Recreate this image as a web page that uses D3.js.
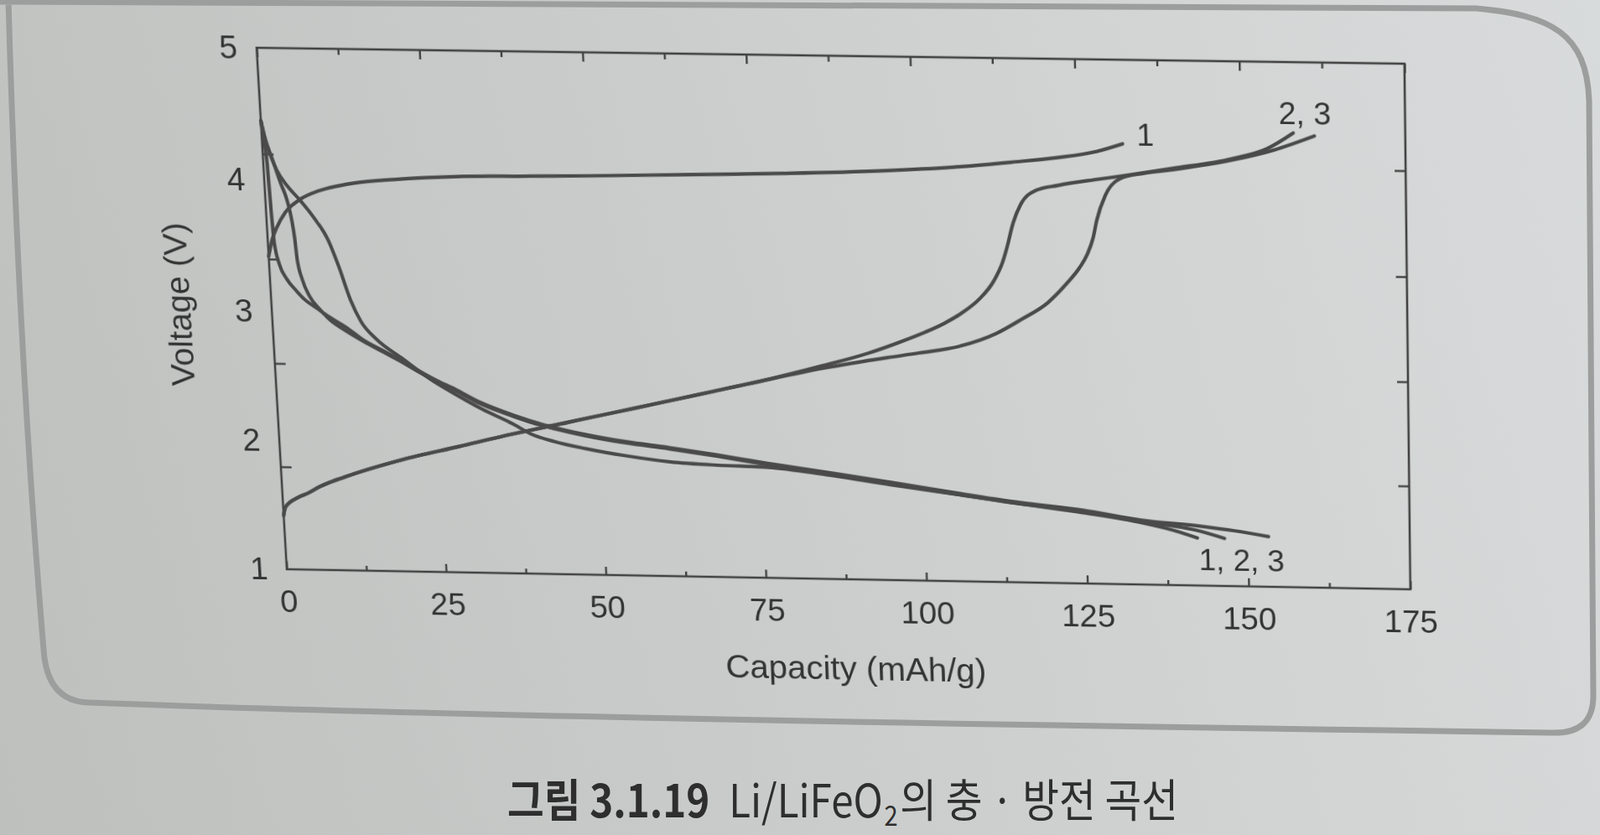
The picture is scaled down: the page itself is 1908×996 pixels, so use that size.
<!DOCTYPE html>
<html>
<head>
<meta charset="utf-8">
<script src="https://cdn.jsdelivr.net/npm/d3@7"></script>
<style>
  html, body { margin: 0; padding: 0; width: 1908px; height: 996px; overflow: hidden; }
  body {
    position: relative;
    background: linear-gradient(75deg, #bec0be 0%, #c9cbca 40%, #d2d5d4 75%, #d8dbdb 100%);
    font-family: "Liberation Sans", Arial, sans-serif;
  }
  #page, #chart { position: absolute; left: 0; top: 0; }
  #chart { transform-origin: 0 0; }
</style>
</head>
<body>
<svg id="page" width="1908" height="996"></svg>
<svg id="chart" width="1908" height="996"></svg>
<script>
// axis ticks and labels
const capacityTicks = [0, 25, 50, 75, 100, 125, 150, 175];
const capacityMinorTicks = [12.5, 37.5, 62.5, 87.5, 112.5, 137.5, 162.5];
const voltageLabels = [1, 2, 3, 4, 5];
const voltageTickMarks = [1.8, 2.6, 3.4, 4.2];

// charge curves (capacity mAh/g, voltage V)
const charge1Cap = [0, 0.3, 0.7, 1.5, 3, 5.4, 8, 10, 14, 20, 30, 40, 50, 65, 80, 95, 107, 115, 122, 128, 132];
const charge1V   = [3.42, 3.48, 3.55, 3.64, 3.76, 3.86, 3.92, 3.95, 3.99, 4.02, 4.05, 4.06, 4.07, 4.09, 4.11, 4.14, 4.18, 4.22, 4.26, 4.31, 4.37];

const charge2Cap = [0, 0.3, 1, 2.3, 4.1, 5.9, 10, 19, 28, 37, 45, 53, 61, 68, 75, 85, 92, 97, 101, 104, 106.7, 109.5, 111.8, 113.2, 114.1, 114.8, 116.2, 118.6, 122, 128, 132, 139.4, 148.6, 154, 158];
const charge2V   = [1.42, 1.48, 1.52, 1.56, 1.60, 1.65, 1.73, 1.87, 1.98, 2.09, 2.18, 2.27, 2.36, 2.44, 2.52, 2.65, 2.75, 2.84, 2.92, 2.99, 3.07, 3.18, 3.32, 3.46, 3.60, 3.73, 3.90, 4.01, 4.05, 4.10, 4.13, 4.19, 4.27, 4.35, 4.47];

const charge3Cap = [0, 0.3, 1, 2.3, 4.1, 5.9, 10, 19, 28, 37, 45, 53, 61, 68, 75, 85, 95, 100, 106.5, 112, 115.9, 120, 123, 125, 126.2, 127.2, 127.8, 129.2, 131.6, 135, 139.4, 148.6, 155, 161.2];
const charge3V   = [1.42, 1.48, 1.52, 1.56, 1.60, 1.65, 1.73, 1.87, 1.98, 2.09, 2.18, 2.27, 2.36, 2.44, 2.52, 2.63, 2.72, 2.76, 2.82, 2.92, 3.03, 3.16, 3.31, 3.43, 3.53, 3.66, 3.79, 3.98, 4.11, 4.15, 4.18, 4.26, 4.34, 4.45];

// discharge curves
const discharge1Cap = [0, 0.4, 1, 2, 3.5, 5.4, 7.5, 9.3, 10.8, 12.3, 13.8, 16, 20, 24, 28, 32, 36.7, 39.2, 43, 47.8, 54, 60.7, 68, 76, 85, 95, 105.9, 115, 124.6, 133.7, 138.2, 142.2];
const discharge1V   = [4.45, 4.33, 4.22, 4.08, 3.96, 3.85, 3.71, 3.56, 3.35, 3.10, 2.93, 2.80, 2.65, 2.50, 2.38, 2.27, 2.16, 2.09, 2.03, 1.98, 1.93, 1.89, 1.87, 1.86, 1.81, 1.74, 1.67, 1.61, 1.55, 1.48, 1.43, 1.37];

const discharge2Cap = [0, 0.5, 1.5, 2.5, 3.3, 3.9, 4.2, 4.4, 5, 6, 7.5, 9, 11, 14, 17, 20, 22.4, 25, 28, 31, 35, 39.2, 43, 47.8, 54, 60.7, 68, 76, 85, 95, 105.9, 115, 124.6, 133.7, 142, 146.4];
const discharge2V   = [4.45, 4.32, 4.15, 3.98, 3.86, 3.70, 3.56, 3.40, 3.25, 3.12, 3.02, 2.94, 2.87, 2.78, 2.70, 2.62, 2.55, 2.48, 2.41, 2.33, 2.25, 2.18, 2.13, 2.08, 2.03, 1.99, 1.94, 1.88, 1.82, 1.75, 1.67, 1.61, 1.56, 1.49, 1.43, 1.37];

const discharge3Cap = [0, 0.3, 0.6, 0.8, 1, 1.6, 2.6, 4, 5.3, 7, 8.7, 11.6, 14, 17, 20, 22.4, 25, 28, 31, 35, 39.2, 43, 47.8, 54, 60.7, 68, 76, 85, 95, 105.9, 115, 124.6, 133.7, 143, 148, 153.2];
const discharge3V   = [4.45, 4.30, 4.12, 3.75, 3.52, 3.36, 3.25, 3.16, 3.09, 3.03, 2.97, 2.88, 2.79, 2.71, 2.63, 2.56, 2.49, 2.42, 2.34, 2.26, 2.19, 2.14, 2.09, 2.04, 2.00, 1.95, 1.89, 1.83, 1.76, 1.68, 1.62, 1.57, 1.50, 1.46, 1.43, 1.39];

// cycle labels next to the curves
const cycleLabelText = ['1', '2, 3', '1, 2, 3'];
const cycleLabelCap = [135.5, 159.8, 149];
const cycleLabelV = [4.44, 4.62, 1.2];

// caption pieces
const captionParts = ['그림 3.1.19', 'Li/LiFeO', '2', '의 충 · 방전 곡선'];

const ink = '#414141';
const textInk = '#333333';

// flat plot area, later warped onto the photographed page
const L = 320, T = 62, W = 1360, H = 630;

const x = d3.scaleLinear().domain([0, 175]).range([0, W]);
const y = d3.scaleLinear().domain([1, 5]).range([H, 0]);

const svg = d3.select('#chart');
const g = svg.append('g').attr('transform', `translate(${L},${T})`);

g.append('rect')
  .attr('width', W).attr('height', H)
  .attr('fill', 'none').attr('stroke', ink).attr('stroke-width', 2.6);

const styleAxis = sel => {
  sel.select('.domain').remove();
  sel.selectAll('.tick line').attr('stroke', ink).attr('stroke-width', 2.4);
  sel.selectAll('text')
    .attr('fill', textInk)
    .attr('font-size', 39)
    .attr('font-family', '"Liberation Sans", Arial, sans-serif');
};

g.append('g').attr('transform', `translate(0,${H})`)
  .call(d3.axisBottom(x).tickValues(capacityTicks).tickSizeInner(-10).tickSizeOuter(0).tickPadding(25))
  .call(styleAxis);
g.append('g').attr('transform', `translate(0,${H})`)
  .call(d3.axisBottom(x).tickValues(capacityMinorTicks).tickSizeInner(-6).tickSizeOuter(0).tickFormat(''))
  .call(styleAxis);
g.append('g')
  .call(d3.axisTop(x).tickValues(capacityTicks).tickSizeInner(-11).tickSizeOuter(0).tickFormat(''))
  .call(styleAxis);
g.append('g')
  .call(d3.axisTop(x).tickValues(capacityMinorTicks).tickSizeInner(-7).tickSizeOuter(0).tickFormat(''))
  .call(styleAxis);
g.append('g')
  .call(d3.axisLeft(y).tickValues(voltageTickMarks).tickSizeInner(-13).tickSizeOuter(0).tickFormat(''))
  .call(styleAxis);
g.append('g')
  .call(d3.axisLeft(y).tickValues(voltageLabels).tickSize(0).tickPadding(23).tickFormat(d3.format('d')))
  .call(styleAxis);
g.append('g').attr('transform', `translate(${W},0)`)
  .call(d3.axisRight(y).tickValues(voltageTickMarks).tickSizeInner(-13).tickSizeOuter(0).tickFormat(''))
  .call(styleAxis);

const line = d3.line()
  .x(d => x(d[0]))
  .y(d => y(d[1]))
  .curve(d3.curveMonotoneX);

const curves = [
  [charge1Cap, charge1V],
  [charge2Cap, charge2V],
  [charge3Cap, charge3V],
  [discharge1Cap, discharge1V],
  [discharge2Cap, discharge2V],
  [discharge3Cap, discharge3V]
];

curves.forEach(([cap, v]) => {
  g.append('path')
    .datum(d3.zip(cap, v))
    .attr('d', line)
    .attr('fill', 'none')
    .attr('stroke', '#4a4a4a')
    .attr('stroke-width', 4.2)
    .attr('stroke-linecap', 'round')
    .attr('stroke-linejoin', 'round');
});

cycleLabelText.forEach((t, i) => {
  g.append('text')
    .attr('x', x(cycleLabelCap[i]))
    .attr('y', y(cycleLabelV[i]))
    .attr('text-anchor', 'middle')
    .attr('dominant-baseline', 'central')
    .attr('font-size', 37)
    .attr('fill', textInk)
    .text(t);
});

g.append('text')
  .attr('x', W / 2 + 8)
  .attr('y', H + 110)
  .attr('text-anchor', 'middle')
  .attr('dominant-baseline', 'central')
  .attr('font-size', 41)
  .attr('fill', textInk)
  .text('Capacity (mAh/g)');

g.append('text')
  .attr('transform', `translate(-112,${H * 0.49}) rotate(-90)`)
  .attr('text-anchor', 'middle')
  .attr('dominant-baseline', 'central')
  .attr('font-size', 40)
  .attr('fill', textInk)
  .text('Voltage (V)');

// warp the flat chart onto the plot corners seen in the photo
function homography(src, dst) {
  const A = [], b = [];
  for (let i = 0; i < 4; i++) {
    const [sx, sy] = src[i], [dx, dy] = dst[i];
    A.push([sx, sy, 1, 0, 0, 0, -sx * dx, -sy * dx]); b.push(dx);
    A.push([0, 0, 0, sx, sy, 1, -sx * dy, -sy * dy]); b.push(dy);
  }
  const n = 8;
  for (let c = 0; c < n; c++) {
    let p = c;
    for (let r = c + 1; r < n; r++) if (Math.abs(A[r][c]) > Math.abs(A[p][c])) p = r;
    [A[c], A[p]] = [A[p], A[c]];
    [b[c], b[p]] = [b[p], b[c]];
    for (let r = 0; r < n; r++) {
      if (r === c) continue;
      const f = A[r][c] / A[c][c];
      for (let k = c; k < n; k++) A[r][k] -= f * A[c][k];
      b[r] -= f * b[c];
    }
  }
  return b.map((v, i) => v / A[i][i]);
}

const flatCorners = [[L, T], [L + W, T], [L + W, T + H], [L, T + H]];
const photoCorners = [[306, 57], [1675, 76], [1682, 703], [342, 679]];
const h = homography(flatCorners, photoCorners);
svg.style('transform',
  `matrix3d(${h[0]},${h[3]},0,${h[6]},${h[1]},${h[4]},0,${h[7]},0,0,1,0,${h[2]},${h[5]},0,1)`);

// page: rounded figure box and caption
const page = d3.select('#page');
page.append('path')
  .attr('d', 'M10,0 Q22,420 52,775 Q56,836 105,838 Q600,857 1850,874 Q1900,876 1900,830 L1895,120 C1892,40 1850,18 1760,10 L0,2')
  .attr('fill', 'none')
  .attr('stroke', '#9c9e9d')
  .attr('stroke-width', 7);

// caption laid out piece by piece, then squeezed to the printed width
const capG = page.append('g');
const capFont = '"Noto Sans CJK KR", "Noto Sans", sans-serif';
const capBase = 975;
const capGaps = [26, 2, 3];
let cx = 0;
captionParts.forEach((t, i) => {
  const isSub = i === 2;
  const el = capG.append('text')
    .attr('x', cx)
    .attr('y', isSub ? capBase + 10 : capBase)
    .attr('font-family', capFont)
    .attr('font-size', isSub ? 33 : 54)
    .attr('font-weight', i === 0 ? 'bold' : 'normal')
    .attr('fill', '#2e2e2e')
    .text(t);
  cx += el.node().getComputedTextLength() + (capGaps[i] || 0);
});
const capScale = 800 / cx;
capG.attr('transform', `translate(605,0) scale(${capScale},1)`);
</script>
</body>
</html>
